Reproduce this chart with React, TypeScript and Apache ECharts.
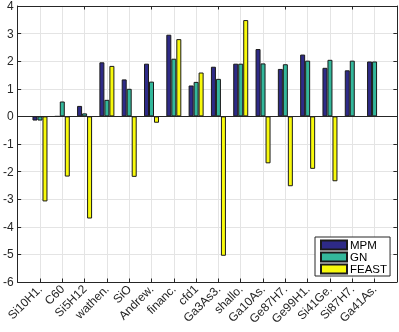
import React, { useEffect, useRef } from 'react';
import * as echarts from 'echarts';

const categories = ['Si10H1.', 'C60', 'Si5H12', 'wathen.', 'SiO', 'Andrew.', 'financ.', 'cfd1', 'Ga3As3.', 'shallo.', 'Ga10As.', 'Ge87H7.', 'Ge99H1.', 'Si41Ge.', 'Si87H7.', 'Ga41As.'];
const mpm = [-0.15, 0, 0.38, 1.96, 1.34, 1.91, 2.96, 1.12, 1.8, 1.91, 2.44, 1.72, 2.24, 1.76, 1.67, 1.99];
const gn = [-0.15, 0.54, 0.11, 0.6, 1.0, 1.26, 2.09, 1.25, 1.36, 1.91, 1.92, 1.89, 2.02, 2.05, 2.02, 1.99];
const feast: (number | null)[] = [-3.08, -2.18, -3.7, 1.83, -2.19, -0.23, 2.8, 1.59, -5.05, 3.49, -1.7, -2.53, -1.9, -2.35, null, null];
const seriesNames = ['MPM', 'GN', 'FEAST'];
const yMin = -6;
const yMax = 4;
const yStep = 1;

const colors = ['#2e2a87', '#33b79b', '#f8fa0c'];
const font = 'Liberation Sans, Arial, Helvetica, sans-serif';
const ink = '#262626';

export default function App() {
  const ref = useRef<HTMLDivElement>(null);
  useEffect(() => {
    if (!ref.current) return;
    const chart = echarts.init(ref.current, undefined, { renderer: 'svg' });
    const axisCats = ['', ...categories, ''];
    const pad = (arr: (number | null)[]) => [null, ...arr, null];
    const mk = (name: string, data: (number | null)[], i: number) => ({
      name,
      type: 'bar',
      data: pad(data),
      barWidth: 5,
      barGap: '0%',
      itemStyle: { color: colors[i], borderColor: '#1a1a1a', borderWidth: 1 },
      ...(i === 0
        ? {
            markLine: {
              silent: true,
              symbol: 'none',
              label: { show: false },
              lineStyle: { color: ink, width: 1, type: 'solid' },
              data: [{ yAxis: 0 }],
            },
          }
        : {}),
    });
    chart.setOption({
      animation: false,
      grid: { left: 17, right: 1, top: 5, bottom: 50 },
      xAxis: [
        {
          type: 'category',
          data: axisCats,
          boundaryGap: false,
          position: 'bottom',
          axisLine: { show: true, onZero: false, lineStyle: { color: ink, width: 1 } },
          axisTick: { show: true, inside: true, length: 3.5, lineStyle: { color: ink } },
          axisLabel: {
            show: true,
            interval: 0,
            rotate: 45,
            margin: 5,
            fontSize: 12,
            fontFamily: font,
            color: ink,
          },
          splitLine: { show: true, lineStyle: { color: '#e4e4e4', width: 1 } },
        },
        {
          type: 'category',
          data: axisCats,
          boundaryGap: false,
          position: 'top',
          axisLine: { show: true, onZero: false, lineStyle: { color: ink, width: 1 } },
          axisTick: { show: true, inside: true, length: 3.5, lineStyle: { color: ink } },
          axisLabel: { show: false },
          splitLine: { show: false },
        },
      ],
      yAxis: [
        {
          type: 'value',
          min: yMin,
          max: yMax,
          interval: yStep,
          position: 'left',
          axisLine: { show: true, lineStyle: { color: ink, width: 1 } },
          axisTick: { show: true, inside: true, length: 3.5, lineStyle: { color: ink } },
          axisLabel: { fontSize: 12, fontFamily: font, color: ink, margin: 4 },
          splitLine: { show: true, lineStyle: { color: '#e4e4e4', width: 1 } },
        },
        {
          type: 'value',
          min: yMin,
          max: yMax,
          interval: yStep,
          position: 'right',
          axisLine: { show: true, lineStyle: { color: ink, width: 1 } },
          axisTick: { show: true, inside: true, length: 3.5, lineStyle: { color: ink } },
          axisLabel: { show: false },
          splitLine: { show: false },
        },
      ],
      legend: {
        data: seriesNames,
        orient: 'vertical',
        left: 315,
        top: 237,
        icon: 'rect',
        itemWidth: 26,
        itemHeight: 9,
        itemGap: 0,
        padding: [2, 3, 1, 5],
        borderColor: ink,
        borderWidth: 1,
        borderRadius: 0,
        backgroundColor: '#fff',
        textStyle: { fontSize: 11.5, fontFamily: font, color: '#000', lineHeight: 11.5, padding: [0, 0, 0, -2] },
      },
      series: [mk(seriesNames[0], mpm, 0), mk(seriesNames[1], gn, 1), mk(seriesNames[2], feast, 2)],
    });
    return () => chart.dispose();
  }, []);
  return <div ref={ref} style={{ position: 'fixed', left: 0, top: 0, width: 399, height: 332 }} />;
}
